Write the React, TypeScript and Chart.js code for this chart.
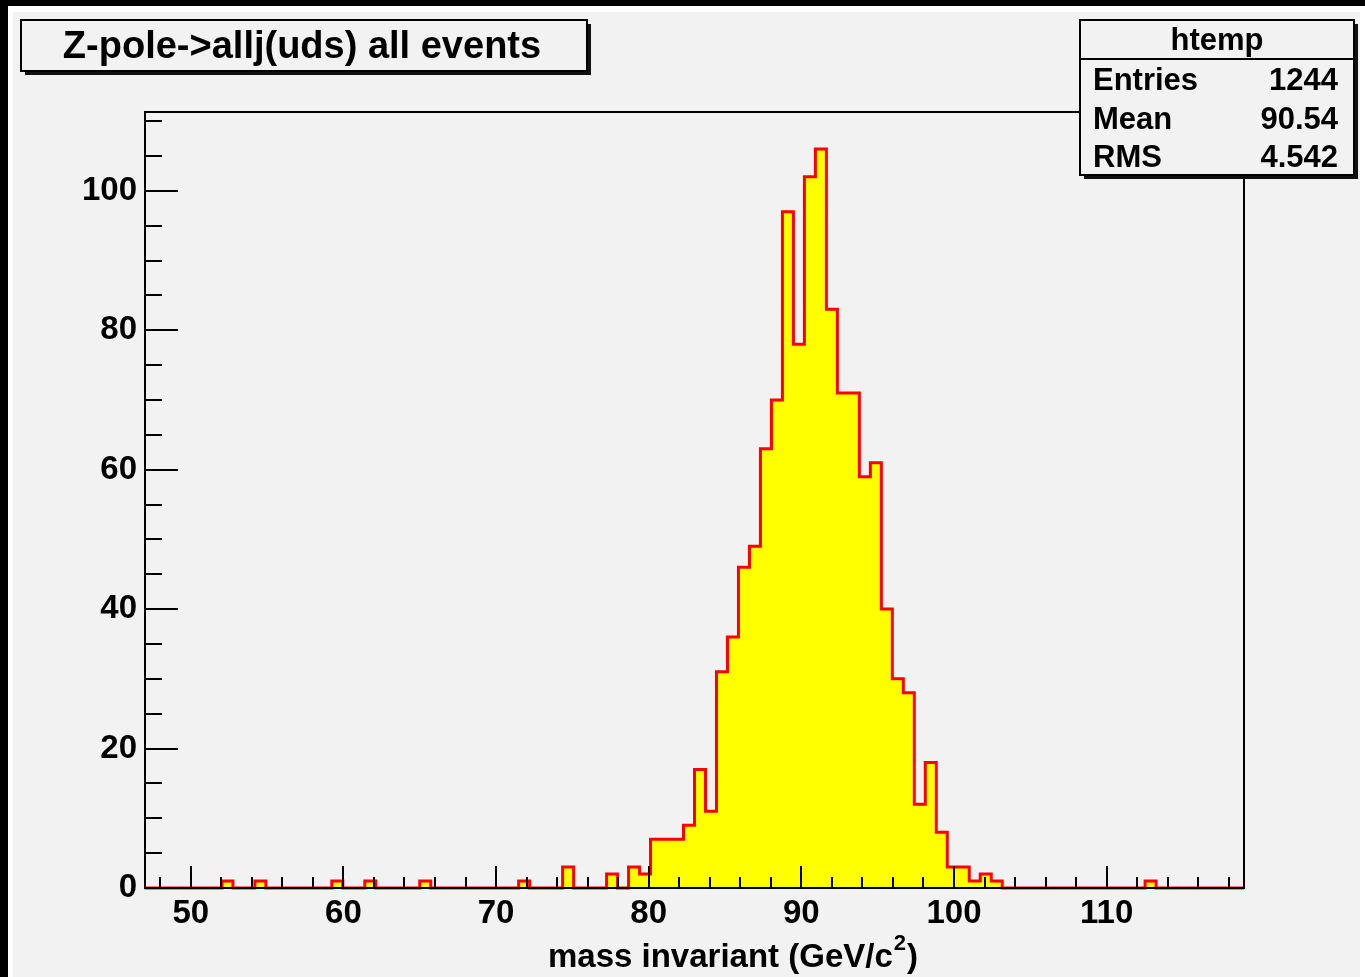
import React, { useEffect, useRef } from "react";
import { Chart, registerables } from "chart.js";

Chart.register(...registerables);

const W = 1365;
const H = 977;

// Histogram definition (100 bins from 47 to 119)
const X_MIN = 47;
const X_MAX = 119;
const BIN_WIDTH = 0.72;
const Y_MAX = 111.3;

// Bin contents (sum = 1244 entries)
const binCounts = [
  0, 0, 0, 0, 0, 0, 0, 1, 0, 0,
  1, 0, 0, 0, 0, 0, 0, 1, 0, 0,
  1, 0, 0, 0, 0, 1, 0, 0, 0, 0,
  0, 0, 0, 0, 1, 0, 0, 0, 3, 0,
  0, 0, 2, 0, 3, 2, 7, 7, 7, 9,
  17, 11, 31, 36, 46, 49, 63, 70, 97, 78,
  102, 106, 83, 71, 71, 59, 61, 40, 30, 28,
  12, 18, 8, 3, 3, 1, 2, 1, 0, 0,
  0, 0, 0, 0, 0, 0, 0, 0, 0, 0,
  0, 1, 0, 0, 0, 0, 0, 0, 0, 0,
];

const xTickValues = [50, 60, 70, 80, 90, 100, 110];
const yTickValues = [0, 20, 40, 60, 80, 100];
const xMinorTicks = [48, 52, 54, 56, 58, 62, 64, 66, 68, 72, 74, 76, 78, 82, 84, 86, 88, 92, 94, 96, 98, 102, 104, 106, 108, 112, 114, 116, 118];
const yMinorTicks = [5, 10, 15, 25, 30, 35, 45, 50, 55, 65, 70, 75, 85, 90, 95, 105, 110];

const titleText = "Z-pole->allj(uds) all events";
const statsName = "htemp";
const statsLabels = ["Entries", "Mean", "RMS"];
const statsValues = ["1244", "90.54", "4.542"];
const xTitleMain = "mass invariant (GeV/c";
const xTitleSup = "2";
const xTitleEnd = ")";

const FONT = "'Liberation Sans', Arial, Helvetica, sans-serif";
const BG = "#f2f2f2";

function shadowBox(ctx: CanvasRenderingContext2D, x: number, y: number, w: number, h: number) {
  ctx.fillStyle = "#111";
  ctx.fillRect(x + 4, y + 4, w, h);
  ctx.fillStyle = BG;
  ctx.fillRect(x, y, w, h);
  ctx.strokeStyle = "#000";
  ctx.lineWidth = 2;
  ctx.strokeRect(x, y, w, h);
}

const rootPlugin = {
  id: "rootStyle",
  beforeDraw(chart: any) {
    const ctx = chart.ctx as CanvasRenderingContext2D;
    ctx.save();
    ctx.fillStyle = "#000";
    ctx.fillRect(0, 0, W, H);
    ctx.fillStyle = "#fff";
    ctx.fillRect(8, 6, W - 8, H - 6);
    ctx.fillStyle = BG;
    ctx.fillRect(13, 12, W - 18, H - 12);
    ctx.restore();
  },
  afterDatasetsDraw(chart: any) {
    const ctx = chart.ctx as CanvasRenderingContext2D;
    const a = chart.chartArea;
    const xs = chart.scales.x;
    const ys = chart.scales.y;
    ctx.save();
    ctx.strokeStyle = "#000";
    ctx.lineWidth = 2;
    ctx.beginPath();
    for (const v of xTickValues) {
      const px = Math.round(xs.getPixelForValue(v));
      ctx.moveTo(px, a.bottom);
      ctx.lineTo(px, a.bottom - 22);
    }
    for (const v of xMinorTicks) {
      const px = Math.round(xs.getPixelForValue(v));
      ctx.moveTo(px, a.bottom);
      ctx.lineTo(px, a.bottom - 11);
    }
    for (const v of yTickValues) {
      const py = Math.round(ys.getPixelForValue(v));
      ctx.moveTo(a.left, py);
      ctx.lineTo(a.left + 33, py);
    }
    for (const v of yMinorTicks) {
      const py = Math.round(ys.getPixelForValue(v));
      ctx.moveTo(a.left, py);
      ctx.lineTo(a.left + 17, py);
    }
    ctx.stroke();
    ctx.strokeRect(a.left, a.top, a.right - a.left, a.bottom - a.top);
    ctx.restore();
  },
  afterDraw(chart: any) {
    const ctx = chart.ctx as CanvasRenderingContext2D;
    ctx.save();
    // Title box
    shadowBox(ctx, 21, 20, 566, 51);
    ctx.fillStyle = "#000";
    ctx.font = `bold 38px ${FONT}`;
    ctx.textAlign = "center";
    ctx.textBaseline = "middle";
    ctx.fillText(titleText, 302, 48);

    // Stats box
    shadowBox(ctx, 1080, 20, 274, 155);
    ctx.beginPath();
    ctx.moveTo(1080, 59);
    ctx.lineTo(1354, 59);
    ctx.stroke();
    ctx.fillStyle = "#000";
    ctx.font = `bold 31px ${FONT}`;
    ctx.textAlign = "center";
    ctx.fillText(statsName, 1217, 41);
    const rowsY = [81, 120, 158];
    statsLabels.forEach((lab, i) => {
      ctx.textAlign = "left";
      ctx.fillText(lab, 1093, rowsY[i]);
      ctx.textAlign = "right";
      ctx.fillText(statsValues[i], 1338, rowsY[i]);
    });

    // X axis title with superscript
    ctx.font = `bold 33px ${FONT}`;
    const wMain = ctx.measureText(xTitleMain).width;
    const wEnd = ctx.measureText(xTitleEnd).width;
    ctx.font = `bold 22px ${FONT}`;
    const wSup = ctx.measureText(xTitleSup).width;
    const endX = 918;
    const startX = endX - wEnd - wSup - 2 - wMain;
    ctx.textAlign = "left";
    ctx.textBaseline = "alphabetic";
    ctx.font = `bold 33px ${FONT}`;
    ctx.fillText(xTitleMain, startX, 967);
    ctx.font = `bold 22px ${FONT}`;
    ctx.fillText(xTitleSup, startX + wMain + 1, 950);
    ctx.font = `bold 33px ${FONT}`;
    ctx.fillText(xTitleEnd, startX + wMain + wSup + 2, 967);
    ctx.restore();
  },
};

export default function App() {
  const ref = useRef<HTMLCanvasElement | null>(null);

  useEffect(() => {
    if (!ref.current) return;
    const points = binCounts.map((c, i) => ({ x: X_MIN + i * BIN_WIDTH, y: c }));
    points.push({ x: X_MAX, y: binCounts[binCounts.length - 1] });

    const chart = new Chart(ref.current, {
      type: "line",
      data: {
        datasets: [
          {
            data: points,
            stepped: "before",
            fill: "origin",
            backgroundColor: "#ffff00",
            borderColor: "#ff0000",
            borderWidth: 3,
            pointRadius: 0,
            clip: 4,
          } as any,
        ],
      },
      options: {
        responsive: false,
        animation: false,
        devicePixelRatio: 1,
        layout: { padding: { top: 112, right: 121, left: 0, bottom: 0 } },
        plugins: {
          legend: { display: false },
          tooltip: { enabled: false },
          title: { display: false },
        },
        scales: {
          x: {
            type: "linear",
            min: X_MIN,
            max: X_MAX,
            grid: { display: false, drawTicks: false },
            border: { display: false },
            afterBuildTicks: (s: any) => {
              s.ticks = xTickValues.map((v) => ({ value: v }));
            },
            afterFit: (s: any) => {
              s.height = 89;
            },
            ticks: {
              padding: 6,
              maxRotation: 0,
              autoSkip: false,
              color: "#000",
              font: { family: FONT, size: 33, weight: "bold" },
              callback: (v: any) => String(v),
            },
          },
          y: {
            type: "linear",
            min: 0,
            max: Y_MAX,
            grid: { display: false, drawTicks: false },
            border: { display: false },
            afterBuildTicks: (s: any) => {
              s.ticks = yTickValues.map((v) => ({ value: v }));
            },
            afterFit: (s: any) => {
              s.width = 145;
            },
            ticks: {
              padding: 8,
              autoSkip: false,
              color: "#000",
              font: { family: FONT, size: 33, weight: "bold" },
              callback: (v: any) => String(v),
            },
          },
        },
      },
      plugins: [rootPlugin],
    });
    return () => chart.destroy();
  }, []);

  return (
    <div style={{ position: "absolute", left: 0, top: 0, width: W, height: H, background: "#000" }}>
      <canvas ref={ref} width={W} height={H} style={{ display: "block", width: W, height: H }} />
    </div>
  );
}
